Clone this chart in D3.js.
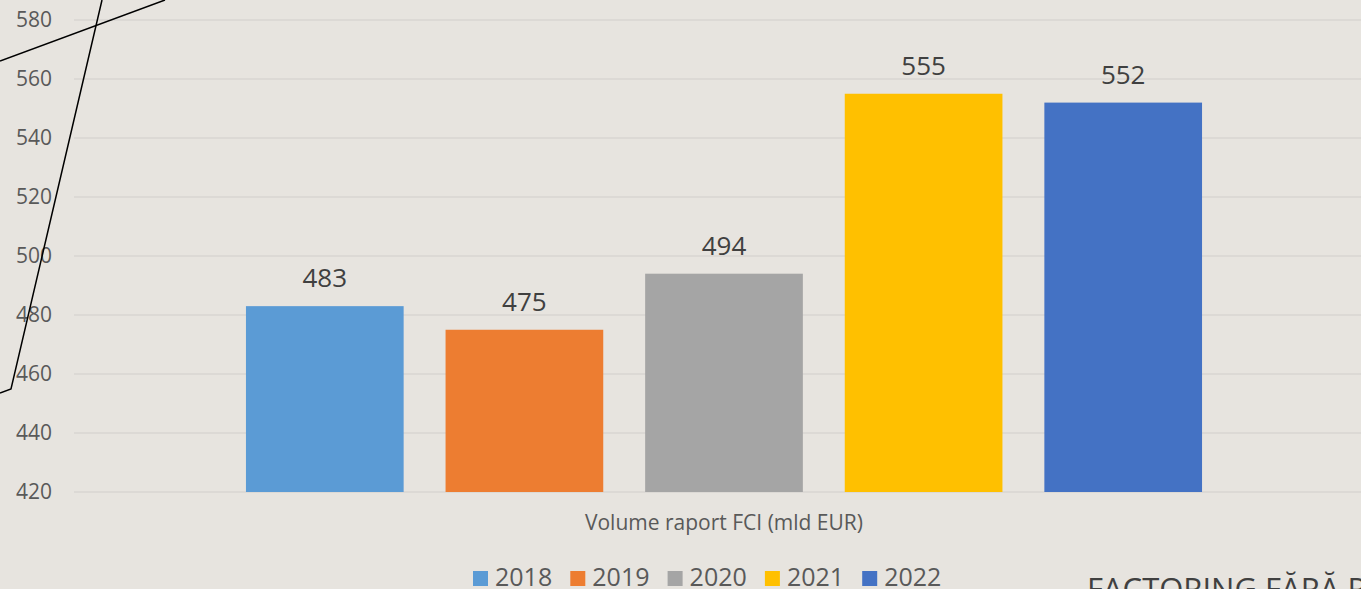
<!DOCTYPE html>
<html>
<head>
<meta charset="utf-8">
<title>Volume raport FCI</title>
<script src="https://cdn.jsdelivr.net/npm/d3@7"></script>
<style>
    html, body { margin: 0; padding: 0; background: #e7e4df; overflow: hidden; }
    svg { display: block; font-family: "Open Sans", sans-serif; }
</style>
</head>
<body>
<div id="chart"></div>
<script>
    // data
    var years = ["2018", "2019", "2020", "2021", "2022"];
    var values = [483, 475, 494, 555, 552];
    var colors = ["#5b9bd5", "#ed7d31", "#a5a5a5", "#ffc000", "#4472c4"];
    var yTicks = [420, 440, 460, 480, 500, 520, 540, 560, 580];
    var categoryLabel = "Volume raport FCI (mld EUR)";

    var width = 1361, height = 589;

    var svg = d3.select("#chart").append("svg")
        .attr("width", width)
        .attr("height", height);

    svg.append("rect")
        .attr("width", width).attr("height", height)
        .attr("fill", "#e7e4df");

    var y = d3.scaleLinear().domain([420, 580]).range([492, 20]);
    var x = d3.scaleBand().domain(years).range([225, 1223])
        .paddingInner(0.21).paddingOuter(0.105);

    // gridlines
    svg.append("g")
        .selectAll("line")
        .data(yTicks)
        .enter().append("line")
        .attr("x1", 74).attr("x2", width)
        .attr("y1", function(d) { return y(d); })
        .attr("y2", function(d) { return y(d); })
        .attr("stroke", "#d8d6d2")
        .attr("stroke-width", 1.5);

    // y axis labels
    var yAxis = d3.axisLeft(y).tickValues(yTicks).tickSize(0).tickPadding(0);
    svg.append("g")
        .attr("transform", "translate(52,0)")
        .call(yAxis)
        .call(function(g) { g.select(".domain").remove(); })
        .selectAll("text")
        .attr("font-family", "'Open Sans', sans-serif")
        .attr("font-size", "21px")
        .attr("fill", "#595959");

    // bars
    svg.append("g")
        .selectAll("rect")
        .data(years)
        .enter().append("rect")
        .attr("x", function(d) { return x(d); })
        .attr("width", x.bandwidth())
        .attr("y", function(d, i) { return y(values[i]); })
        .attr("height", function(d, i) { return y(420) - y(values[i]); })
        .attr("fill", function(d, i) { return colors[i]; });

    // data labels
    svg.append("g")
        .selectAll("text")
        .data(years)
        .enter().append("text")
        .attr("x", function(d) { return x(d) + x.bandwidth() / 2; })
        .attr("y", function(d, i) { return y(values[i]) - 19; })
        .attr("text-anchor", "middle")
        .attr("font-size", "26px")
        .attr("fill", "#404040")
        .text(function(d, i) { return values[i]; });

    // category label
    svg.append("text")
        .attr("x", 724)
        .attr("y", 530)
        .attr("text-anchor", "middle")
        .attr("font-size", "21px")
        .attr("fill", "#595959")
        .text(categoryLabel);

    // legend
    var legend = svg.append("g")
        .selectAll("g")
        .data(years)
        .enter().append("g")
        .attr("transform", function(d, i) { return "translate(" + (473 + i * 97.3) + ",571)"; });

    legend.append("rect")
        .attr("width", 15).attr("height", 15)
        .attr("fill", function(d, i) { return colors[i]; });

    legend.append("text")
        .attr("x", 22)
        .attr("y", 15)
        .attr("font-size", "25px")
        .attr("fill", "#595959")
        .text(function(d) { return d; });

    // slide decoration around the chart
    svg.append("path")
        .attr("d", "M0,61 L165,0")
        .attr("stroke", "#000").attr("stroke-width", 1.5).attr("fill", "none");
    svg.append("path")
        .attr("d", "M102,0 L11,389 L0,393")
        .attr("stroke", "#000").attr("stroke-width", 1.5).attr("fill", "none");

    svg.append("text")
        .attr("x", 1087)
        .attr("y", 600)
        .attr("font-size", "31px")
        .attr("fill", "#404040")
        .text("FACTORING FĂRĂ RECURS");
</script>
</body>
</html>
